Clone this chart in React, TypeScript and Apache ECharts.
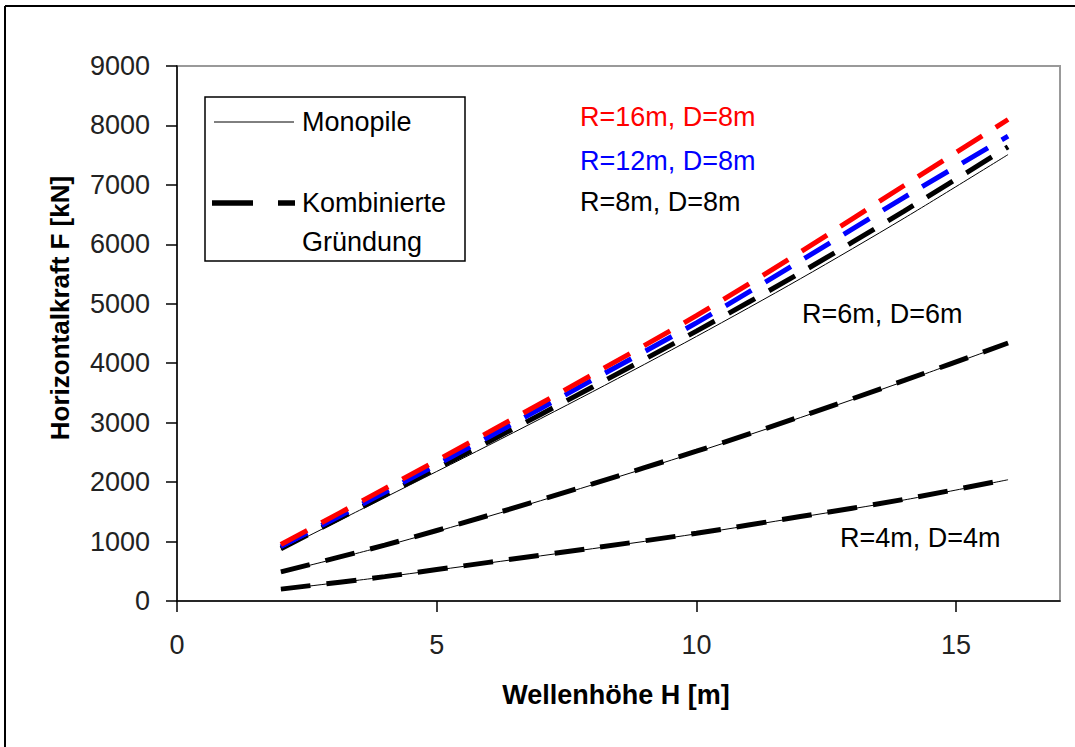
import React, { useEffect, useRef } from "react";
import * as echarts from "echarts";

// Wave height H [m]
const waveHeight = [2, 4, 6, 8, 10, 12, 14, 16];

// Combined foundation (Kombinierte Gründung), force F [kN]
const combR16D8 = [950, 1890, 2840, 3810, 4800, 5870, 6990, 8100];
const combR12D8 = [910, 1830, 2760, 3720, 4680, 5720, 6790, 7820];
const combR8D8 = [880, 1780, 2680, 3600, 4540, 5520, 6560, 7640];
const combR6D6 = [490, 940, 1440, 1970, 2520, 3100, 3710, 4340];
const combR4D4 = [200, 410, 650, 890, 1140, 1420, 1710, 2050];

// Monopile, force F [kN]
const monoD8 = [860, 1740, 2620, 3520, 4450, 5420, 6440, 7510];
const monoD6 = [480, 925, 1425, 1955, 2505, 3085, 3695, 4330];
const monoD4 = [195, 405, 640, 880, 1130, 1410, 1700, 2040];

const xTicks = [0, 5, 10, 15];

const FONT = "'Liberation Sans', Arial, sans-serif";

const toPairs = (vals: number[]) => waveHeight.map((h, i) => [h, vals[i]]);

export default function App() {
  const ref = useRef<HTMLDivElement>(null);

  useEffect(() => {
    if (!ref.current) return;
    const chart = echarts.init(ref.current, undefined, { renderer: "svg" });

    const dashed = (name: string, vals: number[], color: string) => ({
      name,
      type: "line",
      data: toPairs(vals),
      showSymbol: false,
      smooth: 0.3,
      lineStyle: { color, width: 5, type: [30, 16] },
      z: 3,
    });
    const solid = (name: string, vals: number[]) => ({
      name,
      type: "line",
      data: toPairs(vals),
      showSymbol: false,
      smooth: 0.3,
      lineStyle: { color: "#000", width: 1, type: "solid" },
      z: 4,
    });

    const labelText = (text: string, x: number, y: number, color: string) => ({
      type: "text",
      x,
      y,
      z: 10,
      style: {
        text,
        fill: color,
        font: `27px ${FONT}`,
        align: "left",
        verticalAlign: "middle",
      },
    });

    chart.setOption({
      animation: false,
      backgroundColor: "#fff",
      grid: {
        left: 177,
        right: 15,
        top: 66,
        bottom: 146,
        show: true,
        borderColor: "#999",
        borderWidth: 2,
        containLabel: false,
        outerBoundsMode: "none",
      },
      xAxis: {
        type: "value",
        min: 0,
        max: 17,
        interval: 5,
        splitLine: { show: false },
        axisLine: { show: true, lineStyle: { color: "#000", width: 1.5 } },
        axisTick: {
          show: true,
          length: 11,
          customValues: xTicks,
          lineStyle: { color: "#000", width: 1.5 },
        },
        axisLabel: {
          customValues: xTicks,
          fontSize: 27,
          fontFamily: FONT,
          color: "#222",
          margin: 30,
          formatter: (v: number) => String(v),
        },
      },
      yAxis: {
        type: "value",
        min: 0,
        max: 9000,
        interval: 1000,
        splitLine: { show: false },
        axisLine: { show: true, lineStyle: { color: "#000", width: 1.5 } },
        axisTick: { show: true, length: 11, lineStyle: { color: "#000", width: 1.5 } },
        axisLabel: {
          fontSize: 27,
          fontFamily: FONT,
          color: "#222",
          margin: 27,
          formatter: (v: number) => String(v),
        },
      },
      series: [
        dashed("R=4m, D=4m", combR4D4, "#000"),
        dashed("R=6m, D=6m", combR6D6, "#000"),
        dashed("R=8m, D=8m", combR8D8, "#000"),
        dashed("R=12m, D=8m", combR12D8, "#0000ff"),
        dashed("R=16m, D=8m", combR16D8, "#ff0000"),
        solid("Monopile D=8m", monoD8),
        solid("Monopile D=6m", monoD6),
        solid("Monopile D=4m", monoD4),
      ],
      graphic: [
        // outer frame (top and left)
        { type: "line", shape: { x1: 5, y1: 6, x2: 1075, y2: 6 }, style: { stroke: "#000", lineWidth: 2 } },
        { type: "line", shape: { x1: 5, y1: 6, x2: 5, y2: 747 }, style: { stroke: "#000", lineWidth: 2 } },
        // axis titles
        {
          type: "text",
          x: 616,
          y: 695,
          style: {
            text: "Wellenhöhe H [m]",
            fill: "#000",
            font: `bold 27px ${FONT}`,
            align: "center",
            verticalAlign: "middle",
          },
        },
        {
          type: "text",
          x: 60,
          y: 308,
          rotation: Math.PI / 2,
          style: {
            text: "Horizontalkraft F [kN]",
            fill: "#000",
            font: `bold 26px ${FONT}`,
            align: "center",
            verticalAlign: "middle",
          },
        },
        // legend box
        {
          type: "rect",
          z: 10,
          shape: { x: 205, y: 97, width: 260, height: 164 },
          style: { fill: "#fff", stroke: "#000", lineWidth: 1.5 },
        },
        { type: "line", z: 11, shape: { x1: 214, y1: 122, x2: 294, y2: 122 }, style: { stroke: "#000", lineWidth: 1 } },
        { type: "line", z: 11, shape: { x1: 212, y1: 203, x2: 253, y2: 203 }, style: { stroke: "#000", lineWidth: 5.5 } },
        { type: "line", z: 11, shape: { x1: 278, y1: 203, x2: 295, y2: 203 }, style: { stroke: "#000", lineWidth: 5.5 } },
        { ...labelText("Monopile", 302, 122, "#000"), z: 11 },
        { ...labelText("Kombinierte", 302, 203, "#000"), z: 11 },
        { ...labelText("Gründung", 302, 242, "#000"), z: 11 },
        // curve labels
        labelText("R=16m, D=8m", 580, 117, "#ff0000"),
        labelText("R=12m, D=8m", 580, 161, "#0000ff"),
        labelText("R=8m, D=8m", 580, 202, "#000"),
        labelText("R=6m, D=6m", 802, 314, "#000"),
        labelText("R=4m, D=4m", 840, 538, "#000"),
      ],
    });

    return () => chart.dispose();
  }, []);

  return (
    <div
      ref={ref}
      style={{ position: "fixed", left: 0, top: 0, width: 1075, height: 747, background: "#fff" }}
    />
  );
}
